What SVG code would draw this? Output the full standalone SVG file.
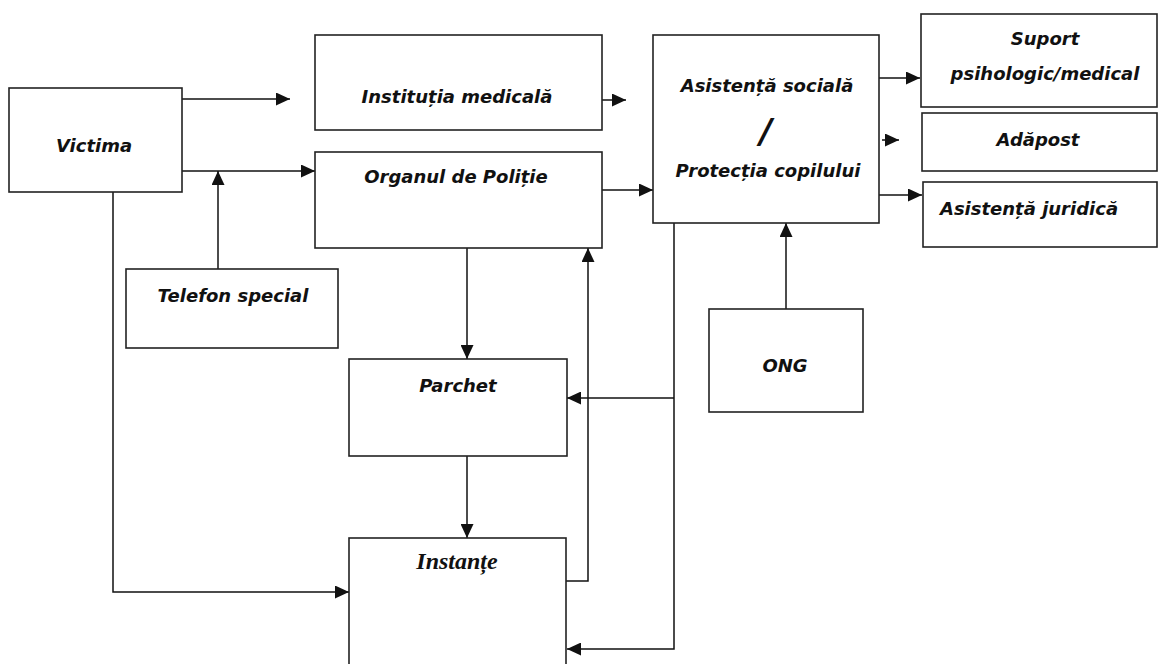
<svg xmlns="http://www.w3.org/2000/svg" width="1158" height="664" viewBox="0 0 1158 664">
<style>
.box{fill:#fff;stroke:#222;stroke-width:1.6}
.t{font-family:"DejaVu Sans",Verdana,sans-serif;font-weight:bold;font-style:italic;font-size:18px;fill:#111;text-anchor:middle}
.ts{font-family:"Liberation Serif","Times New Roman",serif;font-weight:bold;font-style:italic;font-size:24px;fill:#111;text-anchor:middle}
.c{fill:none;stroke:#111;stroke-width:1.5}
</style>
<defs>
<marker id="ah" markerUnits="userSpaceOnUse" markerWidth="15" markerHeight="13" refX="14" refY="6.5" orient="auto">
<path d="M0,0 L14,6.5 L0,13 Z" fill="#111"/>
</marker>
</defs>
<rect width="1158" height="664" fill="#fff"/>
<g id="connectors">
<path class="c" d="M182,99 H290" marker-end="url(#ah)"/>
<path class="c" d="M182,171 H315" marker-end="url(#ah)"/>
<path class="c" d="M218,269 V171" marker-end="url(#ah)"/>
<path class="c" d="M602,100 H626" marker-end="url(#ah)"/>
<path class="c" d="M602,190 H653" marker-end="url(#ah)"/>
<path class="c" d="M879,78 H920" marker-end="url(#ah)"/>
<path class="c" d="M882,140 H899" marker-end="url(#ah)"/>
<path class="c" d="M879,195 H922" marker-end="url(#ah)"/>
<path class="c" d="M467,248 V359" marker-end="url(#ah)"/>
<path class="c" d="M467,456 V538" marker-end="url(#ah)"/>
<path class="c" d="M566,581 H588 V248" marker-end="url(#ah)"/>
<path class="c" d="M674,223 V649 H567" marker-end="url(#ah)"/>
<path class="c" d="M674,398 H567" marker-end="url(#ah)"/>
<path class="c" d="M786,309 V223" marker-end="url(#ah)"/>
<path class="c" d="M113,192 V592 H349" marker-end="url(#ah)"/>
</g>
<g id="victima"><rect class="box" x="9" y="88" width="173" height="104"/><text class="t" x="94" y="152">Victima</text></g>
<g id="institutia"><rect class="box" x="315" y="35" width="287" height="95"/><text class="t" x="457" y="103">Instituția medicală</text></g>
<g id="politie"><rect class="box" x="315" y="152" width="287" height="96"/><text class="t" x="456" y="183">Organul de Poliție</text></g>
<g id="asistenta"><rect class="box" x="653" y="35" width="226" height="188"/><text class="t" x="767" y="92">Asistență socială</text><text class="t" x="766" y="143" style="font-size:34px">/</text><text class="t" x="768" y="177">Protecția copilului</text></g>
<g id="suport"><rect class="box" x="921" y="14" width="236" height="93"/><text class="t" x="1045" y="45">Suport</text><text class="t" x="1045" y="80">psihologic/medical</text></g>
<g id="adapost"><rect class="box" x="922" y="113" width="235" height="58"/><text class="t" x="1038" y="146">Adăpost</text></g>
<g id="juridica"><rect class="box" x="923" y="182" width="234" height="65"/><text class="t" x="1029" y="215">Asistență juridică</text></g>
<g id="telefon"><rect class="box" x="126" y="269" width="212" height="79"/><text class="t" x="233" y="302">Telefon special</text></g>
<g id="parchet"><rect class="box" x="349" y="359" width="218" height="97"/><text class="t" x="458" y="392">Parchet</text></g>
<g id="ong"><rect class="box" x="709" y="309" width="154" height="103"/><text class="t" x="785" y="372">ONG</text></g>
<g id="instante"><rect class="box" x="349" y="538" width="217" height="140"/><text class="ts" x="457" y="569">Instanțe</text></g>
</svg>
